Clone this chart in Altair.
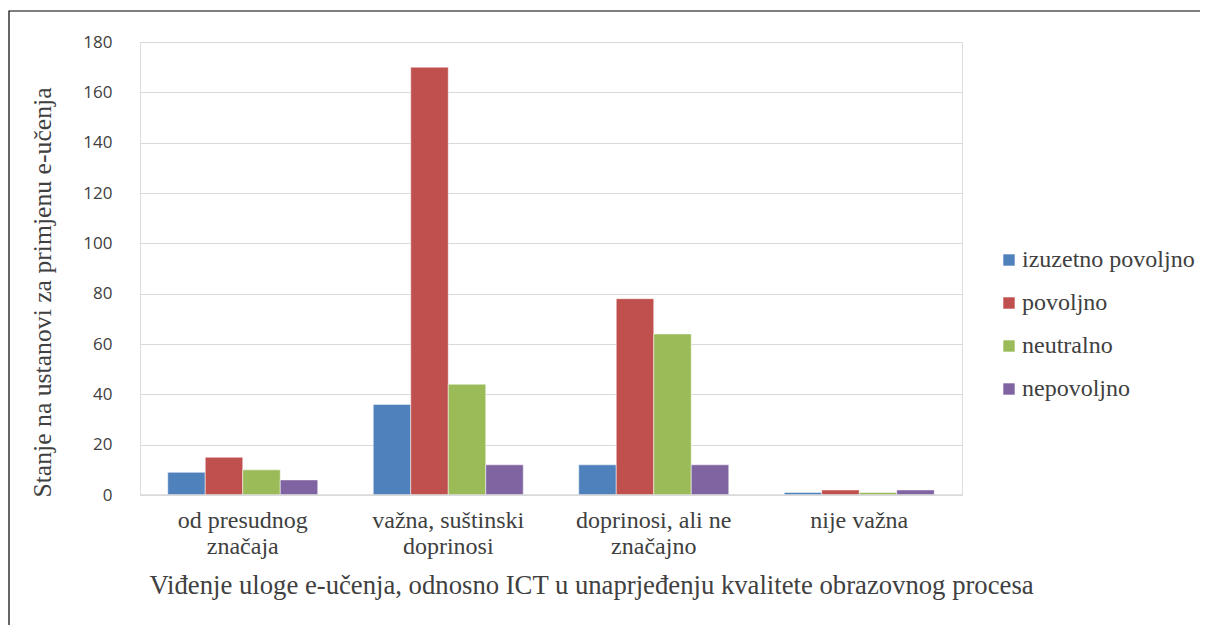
import altair as alt
import pandas as pd

categories = ["od presudnog|značaja", "važna, suštinski|doprinosi", "doprinosi, ali ne|značajno", "nije važna"]
series = ["izuzetno povoljno", "povoljno", "neutralno", "nepovoljno"]
values = {
    "izuzetno povoljno": [9, 36, 12, 1],
    "povoljno": [15, 170, 78, 2],
    "neutralno": [10, 44, 64, 1],
    "nepovoljno": [6, 12, 12, 2],
}
colors = ["#4F81BD", "#C0504D", "#9BBB59", "#8064A2"]

rows = []
for s in series:
    for c, v in zip(categories, values[s]):
        rows.append({"cat": c, "series": s, "value": v})
df = pd.DataFrame(rows)

serif = "Liberation Serif"
sans = "Open Sans"

bars = alt.Chart(df).mark_bar(stroke="white", strokeWidth=0.5).encode(
    x=alt.X("cat:N", sort=categories,
            scale=alt.Scale(paddingInner=0.27, paddingOuter=0.135),
            axis=alt.Axis(title="Viđenje uloge e-učenja, odnosno ICT u unaprjeđenju kvalitete obrazovnog procesa",
                          labelExpr="split(datum.label, '|')", labelAngle=0,
                          labelFont=serif, labelFontSize=24, labelColor="#404040",
                          labelPadding=13, labelLineHeight=26,
                          titleFont=serif, titleFontSize=26.7, titleFontWeight="normal",
                          titleColor="#404040", titlePadding=14, titleX=451, titleAlign="center",
                          ticks=False, domain=False, grid=False)),
    xOffset=alt.XOffset("series:N", sort=series),
    y=alt.Y("value:Q", scale=alt.Scale(domain=[0, 180]),
            axis=alt.Axis(values=list(range(0, 181, 20)), title="Stanje na ustanovi za primjenu e-učenja",
                          labelFont=sans, labelFontSize=17, labelColor="#404040", labelPadding=28,
                          titleFont=serif, titleFontSize=25.7, titleFontWeight="normal",
                          titleColor="#404040", titlePadding=27, titleY=250, titleAlign="center",
                          gridColor="#d9d9d9", gridWidth=1.2, ticks=False, domain=False)),
    color=alt.Color("series:N", sort=series, scale=alt.Scale(domain=series, range=colors),
                    legend=alt.Legend(title=None, orient="none", legendX=857, legendY=206,
                                      symbolType="square", symbolSize=130, symbolStrokeWidth=0,
                                      labelFont=serif, labelFontSize=24, labelColor="#404040",
                                      rowPadding=19, labelOffset=1, labelLimit=300)),
)

baseline = alt.Chart(pd.DataFrame({"v": [0]})).mark_rule(color="#d9d9d9", strokeWidth=1.5).encode(
    y="v:Q", x=alt.value(0), x2=alt.value(822)
)

frame = alt.Chart(pd.DataFrame({"a": [0]})).mark_rect(fill=None, stroke="black", strokeWidth=1.2).encode(
    x=alt.value(-131), x2=alt.value(1200), y=alt.value(-31), y2=alt.value(640)
)

chart = alt.layer(frame, bars, baseline).properties(
    width=822, height=453,
    autosize=alt.AutoSizeParams(type="none"),
    padding={"left": 132, "top": 34, "right": 238, "bottom": 130},
).configure_view(stroke=None).configure(background="white", font=serif)

chart.save("out.html", embed_options={"renderer": "svg", "actions": False})
